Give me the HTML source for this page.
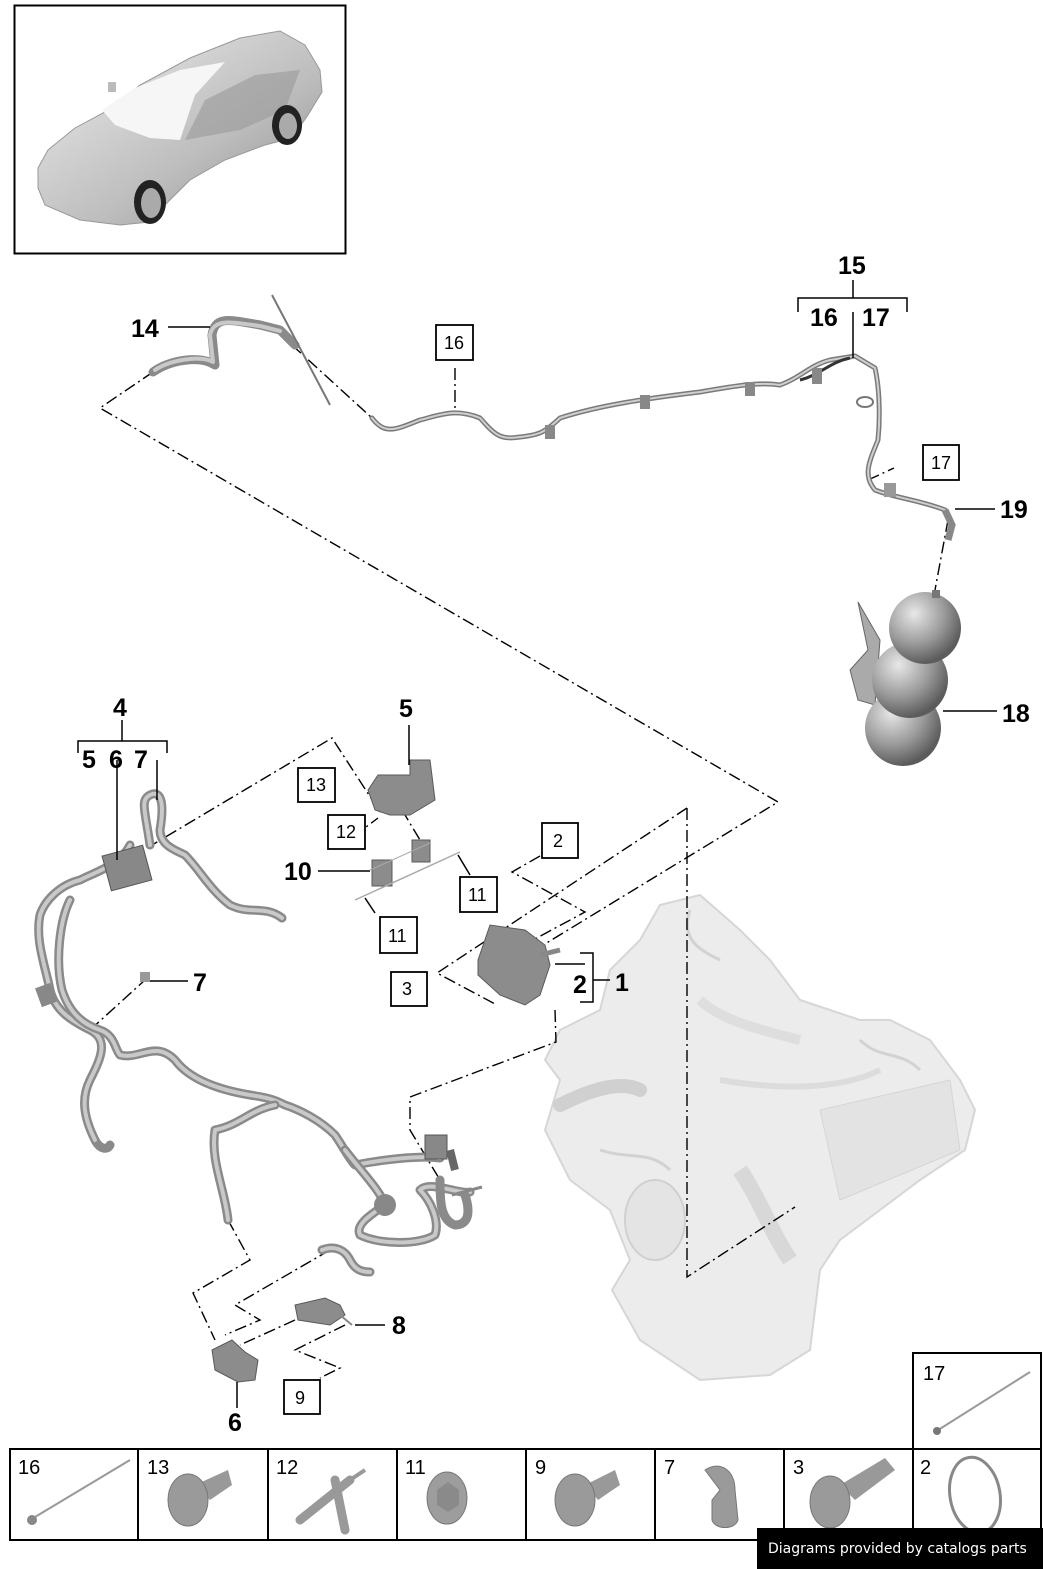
<!DOCTYPE html>
<html><head><meta charset="utf-8">
<style>
html,body{margin:0;padding:0;background:#fff;}
svg{display:block;}
.b{font-family:"Liberation Sans",sans-serif;font-weight:bold;font-size:25px;fill:#000;}
.n{font-family:"Liberation Sans",sans-serif;font-size:18px;fill:#000;}
.c{font-family:"Liberation Sans",sans-serif;font-size:20px;fill:#000;}
.dd{fill:none;stroke:#000;stroke-width:1.4;stroke-dasharray:12 4 2 4;}
.ln{fill:none;stroke:#000;stroke-width:1.5;}
.bx{fill:#fff;stroke:#000;stroke-width:1.8;}
.h1{fill:none;stroke:#8a8a8a;stroke-width:9;stroke-linecap:round;stroke-linejoin:round;}
.h2{fill:none;stroke:#c9c9c9;stroke-width:4;stroke-linecap:round;stroke-linejoin:round;}
.t1{fill:none;stroke:#7a7a7a;stroke-width:5;stroke-linecap:round;stroke-linejoin:round;}
.t2{fill:none;stroke:#cfcfcf;stroke-width:2;stroke-linecap:round;stroke-linejoin:round;}
.eng{fill:#ececec;stroke:#d6d6d6;stroke-width:2;}
.part{fill:#8c8c8c;stroke:#5a5a5a;stroke-width:1;}
</style></head><body>
<svg width="1043" height="1569" viewBox="0 0 1043 1569" xmlns="http://www.w3.org/2000/svg">
<defs>
<radialGradient id="sp" cx="0.35" cy="0.3" r="0.7"><stop offset="0" stop-color="#e8e8e8"/><stop offset="0.6" stop-color="#9a9a9a"/><stop offset="1" stop-color="#5c5c5c"/></radialGradient>
<linearGradient id="car" x1="0" y1="0" x2="1" y2="1"><stop offset="0" stop-color="#efefef"/><stop offset="0.6" stop-color="#bdbdbd"/><stop offset="1" stop-color="#8a8a8a"/></linearGradient>
</defs>

<!-- car box -->
<rect x="14.5" y="5.5" width="331" height="248" fill="#fff" stroke="#000" stroke-width="2"/>
<path d="M38,168 L48,150 L75,128 L105,112 L140,85 L190,58 L240,38 L280,31 L305,45 L320,70 L322,92 L308,115 L292,138 L265,145 L225,160 L190,180 L165,205 L150,222 L120,225 L80,220 L45,205 L38,188 Z" fill="url(#car)" stroke="#999" stroke-width="1"/>
<path d="M102,110 L135,88 L180,70 L225,62 L195,95 L180,140 L150,138 L115,125 Z" fill="#f6f6f6"/>
<path d="M185,140 L205,100 L255,75 L300,70 L285,110 L240,130 Z" fill="#9a9a9a" opacity="0.6"/>
<ellipse cx="150" cy="202" rx="16" ry="22" fill="#222"/><ellipse cx="151" cy="203" rx="10" ry="15" fill="#aaa"/>
<ellipse cx="287" cy="125" rx="15" ry="20" fill="#222"/><ellipse cx="288" cy="126" rx="9" ry="13" fill="#aaa"/>
<rect x="108" y="82" width="8" height="10" fill="#bbb"/>

<!-- engine -->
<g>
<path class="eng" d="M560,1080 L545,1060 L560,1030 L600,1010 L610,970 L640,940 L660,905 L700,895 L740,930 L770,960 L800,1000 L860,1020 L890,1020 L930,1040 L960,1080 L975,1110 L965,1150 L920,1180 L880,1210 L840,1240 L820,1270 L810,1350 L770,1375 L700,1380 L640,1340 L612,1290 L630,1260 L610,1210 L570,1180 L545,1130 Z"/>
<path d="M560,1105 C590,1090 620,1080 640,1090" fill="none" stroke="#d0d0d0" stroke-width="14" stroke-linecap="round"/>
<ellipse cx="655" cy="1220" rx="30" ry="40" fill="#e4e4e4" stroke="#d0d0d0" stroke-width="2"/>
<path d="M740,1170 C760,1200 770,1230 790,1260" fill="none" stroke="#d8d8d8" stroke-width="16"/>
<path d="M720,1080 C780,1090 840,1090 880,1070" fill="none" stroke="#dcdcdc" stroke-width="6"/>
<path d="M700,1000 C720,1020 760,1030 800,1040" fill="none" stroke="#dedede" stroke-width="10"/>
<path d="M820,1110 L950,1080 L960,1150 L840,1200 Z" fill="#e3e3e3" stroke="#d5d5d5"/>
<path d="M690,910 C680,940 700,950 720,960 M600,1150 C630,1160 650,1150 670,1170 M860,1040 C880,1060 900,1050 920,1070" fill="none" stroke="#d2d2d2" stroke-width="3"/>
</g>

<!-- dash-dot lines -->
<path class="dd" d="M153,372 L100,408 L778,802 L540,947"/>
<path class="dd" d="M687,808 L687,1277 L795,1207"/>
<path class="dd" d="M687,808 L437,973 L497,1005"/>
<path class="dd" d="M540,856 L512,872 L585,912 L520,947"/>
<path class="dd" d="M555,1010 L556,1042 L410,1097 L410,1130 L440,1180"/>
<path class="dd" d="M147,848 L332,738 L380,812"/>
<path class="dd" d="M402,810 L420,840"/>
<path class="dd" d="M292,345 L372,418"/>
<path class="dd" d="M455,368 L455,410"/>
<path class="dd" d="M868,480 L894,468"/>
<path class="dd" d="M948,520 L935,590"/>
<path class="dd" d="M90,1030 L145,980"/>
<path class="dd" d="M228,1220 L250,1260 L193,1293 L215,1340"/>
<path class="dd" d="M330,1250 L235,1305 L260,1320 L225,1335"/>
<path class="dd" d="M295,1320 L240,1345"/>
<path class="dd" d="M345,1325 L295,1350 L340,1368 L320,1378"/>
<path class="dd" d="M355,822 L362,830 L378,818"/>
<path class="dd" d="M330,780 L334,790"/>

<!-- hose 14 -->
<path class="h1" d="M153,372 C170,360 200,355 215,365 L212,335 C215,315 230,320 260,325 L280,330 L295,345"/>
<path class="h2" d="M155,370 C170,360 200,355 213,362 L210,335 C214,318 230,322 260,326 L280,331"/>
<path d="M272,295 L330,405" stroke="#777" stroke-width="2"/>

<!-- pipe 16/17 -->
<path class="t1" d="M372,418 C385,435 395,430 420,420 C440,415 455,408 480,418 C495,435 500,440 520,437 C540,435 545,432 560,418 C600,405 650,398 700,392 C740,385 760,382 780,385 C800,378 810,365 830,360 L855,356 L875,368 C880,390 880,420 878,440 C870,460 862,475 875,490 C895,498 920,500 945,510"/>
<path class="t2" d="M372,418 C385,435 395,430 420,420 C440,415 455,408 480,418 C495,435 500,440 520,437 C540,435 545,432 560,418 C600,405 650,398 700,392 C740,385 760,382 780,385 C800,378 810,365 830,360 L855,356 L875,368 C880,390 880,420 878,440 C870,460 862,475 875,490 C895,498 920,500 945,510"/>
<path d="M800,380 C820,375 830,362 850,358" stroke="#333" stroke-width="3" fill="none"/>
<rect x="545" y="425" width="10" height="14" fill="#888"/><rect x="640" y="395" width="10" height="14" fill="#888"/><rect x="745" y="382" width="10" height="14" fill="#888"/><rect x="812" y="368" width="10" height="16" fill="#888"/>
<ellipse cx="865" cy="402" rx="8" ry="5" fill="none" stroke="#777" stroke-width="2"/>
<rect x="884" y="483" width="12" height="14" fill="#999"/>
<path d="M945,510 L952,525 L948,540" stroke="#888" stroke-width="7" fill="none"/>

<!-- tank 18 -->
<path d="M858,602 L868,650 L850,670 L858,700 L875,705 L880,640 Z" fill="#aaa" stroke="#666"/>
<circle cx="903" cy="728" r="38" fill="url(#sp)"/>
<circle cx="910" cy="680" r="38" fill="url(#sp)"/>
<circle cx="925" cy="628" r="36" fill="url(#sp)"/>
<rect x="932" y="590" width="8" height="8" fill="#777"/>

<!-- hose 4 -->
<g>
<path class="h1" d="M150,845 C145,810 140,800 150,795 C160,790 165,800 160,830 C160,845 175,850 185,855 C200,870 210,890 230,905 C250,915 265,905 282,918"/>
<path class="h2" d="M150,845 C145,810 140,800 150,795 C160,790 165,800 160,830 C160,845 175,850 185,855 C200,870 210,890 230,905 C250,915 265,905 282,918"/>
<path class="h1" d="M130,845 C120,865 100,870 80,880 C60,885 45,900 40,915 C35,940 45,965 50,990 C55,1010 70,1020 90,1030 C110,1040 100,1060 90,1080 C80,1100 85,1120 95,1140 C100,1150 108,1150 110,1145"/>
<path class="h2" d="M130,845 C120,865 100,870 80,880 C60,885 45,900 40,915 C35,940 45,965 50,990 C55,1010 70,1020 90,1030 C110,1040 100,1060 90,1080 C80,1100 85,1120 95,1140"/>
<path class="h1" d="M70,900 C60,920 55,960 62,990 C70,1015 85,1025 100,1030 C115,1035 115,1050 120,1055 C140,1060 155,1040 175,1060 C190,1080 220,1090 250,1095 C270,1098 275,1100 285,1105 C300,1110 320,1120 335,1135 C345,1150 350,1160 355,1165 C380,1160 420,1155 440,1158"/>
<path class="h2" d="M70,900 C60,920 55,960 62,990 C70,1015 85,1025 100,1030 C115,1035 115,1050 120,1055 C140,1060 155,1040 175,1060 C190,1080 220,1090 250,1095 C270,1098 275,1100 285,1105 C300,1110 320,1120 335,1135 C345,1150 350,1160 355,1165 C380,1160 420,1155 440,1158"/>
<path class="h1" d="M275,1105 C250,1110 240,1125 215,1130 C210,1160 225,1190 228,1220"/>
<path class="h2" d="M275,1105 C250,1110 240,1125 215,1130 C210,1160 225,1190 228,1220"/>
<path class="h1" d="M345,1150 C360,1170 380,1190 385,1205 C370,1215 355,1225 360,1235 C380,1245 420,1245 435,1235 C440,1220 430,1200 420,1190 C430,1180 460,1195 470,1192"/>
<path class="h2" d="M345,1150 C360,1170 380,1190 385,1205 C370,1215 355,1225 360,1235 C380,1245 420,1245 435,1235 C440,1220 430,1200 420,1190 C430,1180 460,1195 470,1192"/>
<circle cx="385" cy="1205" r="11" fill="#888"/>
<path class="h1" d="M440,1180 C440,1200 440,1220 455,1225 C470,1225 470,1210 465,1195"/>
<rect x="425" y="1135" width="22" height="24" fill="#888" stroke="#555"/>
<path d="M450,1150 L455,1170" stroke="#666" stroke-width="8"/>
<path d="M452,1195 L482,1187" stroke="#888" stroke-width="3"/>
<rect x="106" y="850" width="42" height="36" fill="#888" stroke="#555" transform="rotate(-15 127 868)"/>
<rect x="38" y="985" width="16" height="20" fill="#888" transform="rotate(-20 46 995)"/>
<rect x="140" y="972" width="10" height="10" fill="#999"/>
<path class="h1" d="M322,1250 C335,1245 345,1250 350,1260 C355,1270 362,1272 370,1272"/>
<path class="h2" d="M322,1250 C335,1245 345,1250 350,1260 C355,1270 362,1272 370,1272"/>
</g>

<!-- parts 5,10,2/3 pump, 8, 6 -->
<path class="part" d="M368,790 L378,775 L410,775 L410,760 L430,760 L435,800 L410,815 L390,815 L375,810 Z"/>
<rect x="412" y="840" width="18" height="22" class="part"/>
<rect x="372" y="860" width="20" height="26" class="part"/>
<path d="M355,900 L460,852" stroke="#aaa" stroke-width="1.5"/>
<path d="M370,870 L430,843" stroke="#aaa" stroke-width="1"/>
<path class="part" d="M478,960 L490,925 L525,930 L545,945 L550,965 L540,995 L525,1005 L500,995 L478,975 Z"/>
<path d="M540,955 L560,950" stroke="#888" stroke-width="5"/>
<path class="part" d="M295,1305 L325,1298 L340,1305 L345,1315 L330,1325 L298,1320 Z"/>
<path d="M340,1315 L352,1325" stroke="#888" stroke-width="2"/>
<path class="part" d="M212,1350 L232,1340 L245,1352 L258,1360 L255,1380 L238,1382 L215,1370 Z"/>

<!-- leader lines -->
<path class="ln" d="M168,327 L210,327"/>
<path class="ln" d="M798,312 L798,298 L907,298 L907,312 M853,280 L853,298 M853,312 L853,358"/>
<path class="ln" d="M955,509 L995,509"/>
<path class="ln" d="M943,711 L997,711"/>
<path class="ln" d="M78,753 L78,741 L167,741 L167,753 M122,720 L122,741 M117,760 L117,860 M157,760 L157,800"/>
<path class="ln" d="M409,725 L409,765"/>
<path class="ln" d="M318,871 L370,871"/>
<path class="ln" d="M150,981 L188,981"/>
<path class="ln" d="M555,964 L585,964 M580,953 L593,953 L593,1002 L580,1002 M593,980 L610,980"/>
<path class="ln" d="M355,1325 L385,1325"/>
<path class="ln" d="M237,1382 L237,1408"/>
<path class="ln" d="M365,898 L375,913"/>
<path class="ln" d="M458,855 L470,875"/>

<!-- bold labels -->
<text class="b" x="131" y="337">14</text>
<text class="b" x="838" y="274">15</text>
<text class="b" x="810" y="326">16</text>
<text class="b" x="862" y="326">17</text>
<text class="b" x="1000" y="518">19</text>
<text class="b" x="1002" y="722">18</text>
<text class="b" x="113" y="716">4</text>
<text class="b" x="82" y="768">5</text>
<text class="b" x="109" y="768">6</text>
<text class="b" x="134" y="768">7</text>
<text class="b" x="399" y="717">5</text>
<text class="b" x="284" y="880">10</text>
<text class="b" x="193" y="991">7</text>
<text class="b" x="573" y="993">2</text>
<text class="b" x="615" y="991">1</text>
<text class="b" x="392" y="1334">8</text>
<text class="b" x="228" y="1431">6</text>

<!-- boxed labels -->
<rect class="bx" x="436" y="325" width="37" height="35"/><text class="n" x="444" y="349">16</text>
<rect class="bx" x="923" y="445" width="36" height="35"/><text class="n" x="931" y="469">17</text>
<rect class="bx" x="298" y="768" width="37" height="34"/><text class="n" x="306" y="791">13</text>
<rect class="bx" x="328" y="815" width="37" height="34"/><text class="n" x="336" y="838">12</text>
<rect class="bx" x="460" y="877" width="37" height="35"/><text class="n" x="468" y="901">11</text>
<rect class="bx" x="380" y="917" width="37" height="36"/><text class="n" x="388" y="942">11</text>
<rect class="bx" x="542" y="823" width="36" height="35"/><text class="n" x="553" y="847">2</text>
<rect class="bx" x="391" y="972" width="36" height="34"/><text class="n" x="402" y="995">3</text>
<rect class="bx" x="284" y="1380" width="36" height="34"/><text class="n" x="295" y="1404">9</text>

<!-- parts table -->
<rect x="913" y="1353" width="128" height="96" fill="#fff" stroke="#000" stroke-width="2"/>
<text class="c" x="923" y="1380">17</text>
<path d="M935,1432 L1030,1372" stroke="#999" stroke-width="2"/><circle cx="937" cy="1431" r="4" fill="#777"/>
<rect x="10" y="1449" width="1031" height="91" fill="#fff" stroke="#000" stroke-width="2"/>
<path d="M138,1449 V1540 M268,1449 V1540 M397,1449 V1540 M526,1449 V1540 M655,1449 V1540 M784,1449 V1540 M913,1449 V1540" stroke="#000" stroke-width="2"/>
<text class="c" x="18" y="1474">16</text>
<text class="c" x="147" y="1474">13</text>
<text class="c" x="276" y="1474">12</text>
<text class="c" x="405" y="1474">11</text>
<text class="c" x="535" y="1474">9</text>
<text class="c" x="664" y="1474">7</text>
<text class="c" x="793" y="1474">3</text>
<text class="c" x="920" y="1474">2</text>
<path d="M30,1520 L130,1460" stroke="#999" stroke-width="2"/><circle cx="32" cy="1520" r="5" fill="#888"/>
<path d="M195,1485 L228,1470 L232,1485 L210,1500 Z" fill="#999"/><ellipse cx="188" cy="1500" rx="20" ry="26" fill="#9a9a9a" stroke="#777"/>
<path d="M300,1520 L350,1480 M335,1480 L345,1530" stroke="#999" stroke-width="9" stroke-linecap="round"/><path d="M350,1480 L365,1470" stroke="#999" stroke-width="4"/>
<ellipse cx="447" cy="1498" rx="20" ry="26" fill="#9d9d9d" stroke="#777"/><polygon points="437,1490 448,1482 459,1490 459,1505 448,1512 437,1505" fill="#8a8a8a"/>
<path d="M585,1485 L615,1470 L620,1485 L598,1500 Z" fill="#999"/><ellipse cx="575" cy="1500" rx="20" ry="26" fill="#9a9a9a" stroke="#777"/>
<path d="M705,1470 C720,1460 735,1470 735,1490 L738,1520 C735,1530 715,1530 712,1520 L712,1500 L720,1490 Z" fill="#9a9a9a" stroke="#777"/>
<path d="M840,1485 L885,1458 L895,1470 L855,1500 Z" fill="#999"/><ellipse cx="830" cy="1502" rx="20" ry="26" fill="#9a9a9a" stroke="#777"/>
<ellipse cx="975" cy="1495" rx="25" ry="38" fill="none" stroke="#888" stroke-width="3" transform="rotate(-10 975 1495)"/>

<!-- footer -->
<rect x="757" y="1528" width="286" height="41" fill="#000"/>
<text x="768" y="1553" font-family="'DejaVu Sans',sans-serif" font-size="14" fill="#fff">Diagrams provided by catalogs parts</text>
</svg>
</body></html>
